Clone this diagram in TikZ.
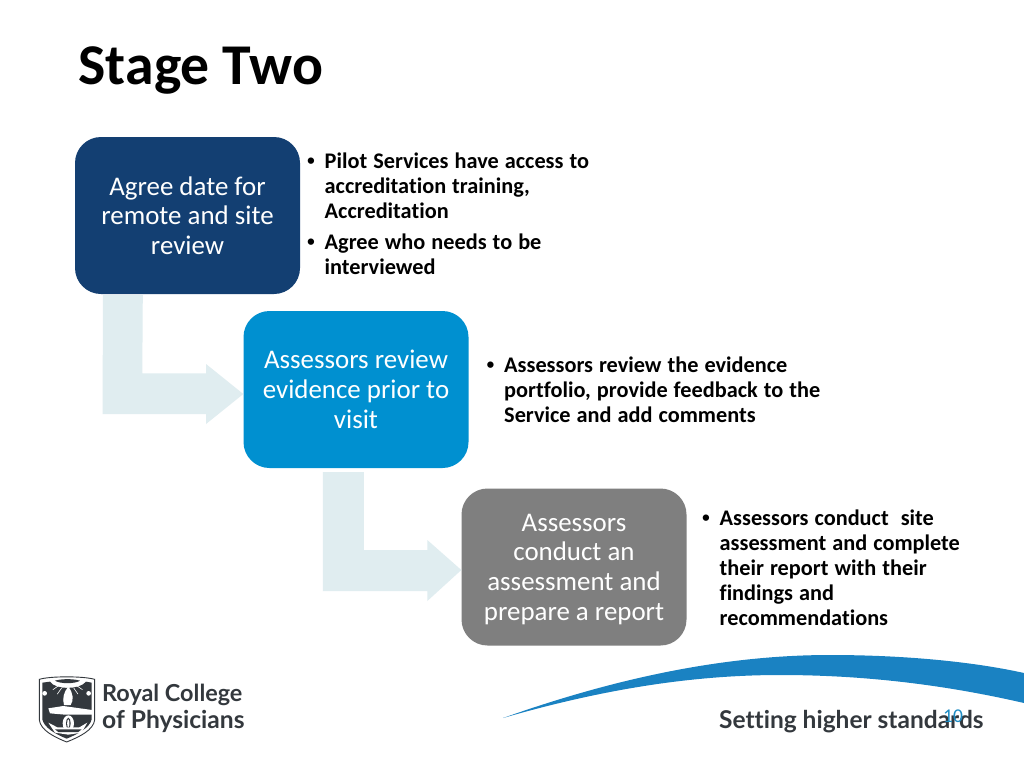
\documentclass[tikz,border=0pt]{standalone}
\usepackage{fontspec}
\setmainfont{Carlito}[RawFeature={-liga}]
\newfontfamily\logofont{Lato}[RawFeature={-liga}]
\newfontfamily\bulfont{Liberation Sans}
\usetikzlibrary{calc}
\definecolor{navybox}{HTML}{133F72}
\definecolor{bluebox}{HTML}{0090D0}
\definecolor{greybox}{HTML}{7F7F7F}
\definecolor{paleflow}{HTML}{E0EDF0}
\definecolor{swoosh}{HTML}{1A82C2}
\definecolor{inkdark}{HTML}{33383D}
\definecolor{pagenum}{HTML}{1D8CC4}
\newcommand{\bul}[1]{\par\noindent\makebox[17.5pt][l]{\bulfont\bfseries •}\begin{minipage}[t]{\dimexpr\linewidth-17.5pt\relax}\raggedright\bfseries\spaceskip=6pt\relax #1\end{minipage}\par}
\tikzset{
  x=1pt,y=-1pt,
  stagebox/.style={rectangle,rounded corners=26pt,minimum width=225pt,minimum height=157pt,inner sep=0pt,text=white,align=center,font=\fontsize{26.9}{29.7}\selectfont},
  notes/.style={anchor=north west,inner sep=0pt,text=black,font=\fontsize{22.3}{25}\selectfont\bfseries,text width=#1},
  flow/.style={fill=paleflow,draw=none},
  logotext/.style={anchor=base west,inner sep=0pt,text=inkdark},
}
\begin{document}
\begin{tikzpicture}
\useasboundingbox (0,0) rectangle (1024,768);
\fill[white] (0,0) rectangle (1024,768);
% title
\node[anchor=base west,inner sep=0pt,font=\fontsize{57.7}{57.7}\selectfont\bfseries] (title) at (78.5,84) {Stage Two};
% boxes
\node[stagebox,fill=navybox] (a) at (187.5,215.5) {Agree date for\\remote and site\\review};
\node[stagebox,fill=bluebox] (b) at (356,389.5) {Assessors review\\evidence prior to\\visit};
\node[stagebox,fill=greybox] (c) at (574,567) {\rule{0pt}{22pt}Assessors\\conduct an\\assessment and\\prepare a report};
% flow arrows
\fill[flow] ($(a.south west)+(28.2,1)$) -- ($(a.south west)+(68,1)$) -- ($(b.west)+(-101,-16.2)$) -- ($(b.west)+(-37.3,-16.2)$) -- ($(b.west)+(-37.3,-25.5)$) -- ($(b.west)+(0,4.5)$) -- ($(b.west)+(-37.3,34.5)$) -- ($(b.west)+(-37.3,24.5)$) -- ($(b.west)+(-140.8,24.5)$) -- cycle;
\fill[flow] ($(b.south west)+(79.5,4)$) -- ($(b.south west)+(120.5,4)$) -- ($(c.west)+(-97.5,-17)$) -- ($(c.west)+(-34,-17)$) -- ($(c.west)+(-34,-27)$) -- ($(c.west)+(0,3)$) -- ($(c.west)+(-34,34)$) -- ($(c.west)+(-34,24)$) -- ($(c.west)+(-138.5,24)$) -- cycle;
% notes
\node[notes=300pt] (na) at (307,143) {\bul{Pilot Services have access to\\accreditation training,\\Accreditation}\vspace{14pt}\bul{Agree who needs to be\\interviewed}};
\node[notes=360pt] (nb) at (486.5,347) {\bul{Assessors review the evidence\\portfolio, provide feedback to the\\Service and add comments}};
\node[notes=300pt] (nc) at (702,500) {\bul{Assessors conduct\ \ site\\assessment and complete\\their report with their\\findings and\\recommendations}};
% swoosh
\fill[swoosh] (503,718) .. controls (610,680) and (720,655) .. (830,655) .. controls (900,655) and (970,661) .. (1024,673) -- (1024,703) .. controls (950,686) and (870,675) .. (780,675) .. controls (690,675) and (600,690) .. (503,718) -- cycle;
% tagline and page number
\node[anchor=base west,inner sep=0pt,text=inkdark,font=\logofont\bfseries\fontsize{24.5}{24.5}\selectfont] (tag) at (719,728) {Setting higher standards};
\node[anchor=base west,inner sep=0pt,text=pagenum,font=\fontsize{19.5}{19.5}\selectfont] (num) at (943,722) {10};
% logo
\node[logotext,font=\logofont\bfseries\fontsize{23.4}{23.4}\selectfont] (l1) at (102,701) {Royal College};
\node[logotext,font=\logofont\bfseries\fontsize{24.6}{24.6}\selectfont] (l2) at (102,728) {of Physicians};
\begin{scope}[shift={(0,640)},x=0.3333pt,y=-0.3333pt]
  \filldraw[fill=white,draw=inkdark,line width=0.9pt] (118,118) .. controls (150,108) and (250,108) .. (284,118) -- (284,240) .. controls (280,270) and (240,290) .. (200,306) .. controls (160,290) and (122,270) .. (118,240) -- cycle;
  \fill[inkdark] (127,128) -- (150,125) .. controls (165,150) and (240,150) .. (258,125) -- (275,128) -- (275,238) .. controls (270,262) and (235,282) .. (200,296) .. controls (165,282) and (132,262) .. (127,238) -- cycle;
  \fill[inkdark] (165,122) .. controls (185,116) and (220,116) .. (240,122) .. controls (225,132) and (180,132) .. (165,122) -- cycle;
  \foreach \ang in {-55,-35,35,55}{\draw[white,line width=0.6pt] (203,118) ++(\ang-90:-32) -- ++(\ang-90:-22);}
  \fill[white] (205,140) .. controls (220,160) and (222,180) .. (212,195) -- (192,195) .. controls (186,175) and (192,155) .. (205,140) -- cycle;
  \fill[white] (145,205) -- (190,198) -- (276,210) -- (276,224) -- (195,224) -- (150,220) -- cycle;
  \fill[white] (205,250) ellipse (17 and 24);
  \fill[inkdark] (205,250) ellipse (7 and 17);
  \fill[white] (205,250) ellipse (3.5 and 12);
  \fill[white] (145,248) -- (172,262) -- (238,262) -- (262,248) -- (245,278) -- (205,284) -- (165,278) -- cycle;
  \fill[inkdark] (165,268) -- (245,268) -- (235,276) -- (175,276) -- cycle;
  \fill[white] (134,160) circle (7); \fill[white] (266,160) circle (7);
\end{scope}
\end{tikzpicture}
\end{document}
